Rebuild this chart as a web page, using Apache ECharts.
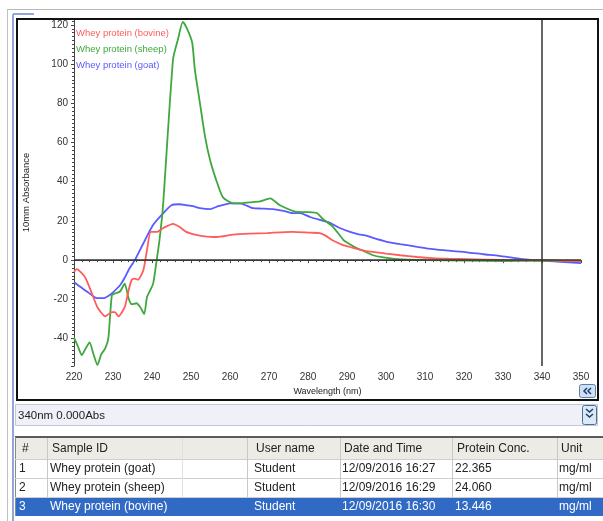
<!DOCTYPE html>
<html><head><meta charset="utf-8">
<script src="https://cdn.jsdelivr.net/npm/echarts@6/dist/echarts.min.js"></script>
<style>html,body{margin:0;padding:0;background:#fff;}#c{width:603px;height:521px;}</style>
</head><body><div id="c"></div>
<script>
// ---- Spectrum data (wavelength nm / 10mm absorbance) ----
const seriesNames = ['Whey protein (bovine)', 'Whey protein (sheep)', 'Whey protein (goat)'];

const bovineNm  = [220,220.7,222.8,224.6,226,228,229.7,230.5,231.4,233,234,234.8,235.6,236.4,237.8,238.7,239.7,241.2,242.9,245.4,247,248.8,251,253,256.6,260.8,265,269.5,273,276,280.5,283,284.5,286.4,289,290.8,294,296,300,303.6,308,312,316,320.8,330,340,350];
const bovineAbs = [-6,-4.6,-8.6,-17,-24,-28.7,-26.5,-26.5,-28.7,-24,-15.4,-10,-9.4,-10,-5,5,14.4,14.4,16.4,18.5,17,14.4,13,12.3,11.8,13,13.5,13.8,14.2,14.4,14,13.8,12.5,10,7.7,6.7,5,4.3,3.3,2.5,1.6,1,0.7,0.5,0.1,0,-0.5];

const sheepNm  = [220,221,222,223,224,225,226,227,228,228.8,229.7,230.5,231.8,233,234,234.8,236,237,238,238.7,239.5,240.3,241.2,241.9,242.8,245.4,246.7,247.9,249,250.3,251,252.3,253.6,254.9,256.7,258.2,260.8,262.6,265,267.7,270.3,272.8,277.2,280,282.3,283.8,286.4,289,290,292.6,294,296.7,299,303,310,320,330,340,350];
const sheepAbs = [-39.5,-44,-48.5,-45,-42,-48,-53.5,-48,-45,-40,-18,-17,-16,-12,-19.5,-22.5,-22,-24,-27.5,-19,-15.5,-12,0,10,27,102.6,113,121.5,118,111,97,80,63,51,39.5,32,29,29,29.5,30,31.5,28,24.6,24.5,24,21,17,10.5,9,6,5,2.5,1.5,0.5,0,-0.3,-0.5,-0.3,-0.5];

const goatNm  = [220,221.5,223.3,225,226,227.5,229,230,231.8,233,234,235.6,237.8,240.3,242.9,245,247,248.8,250.5,252.3,254.9,257,260,262.6,264,265.9,268,271,274,276,278,280.5,283,285.6,288,290.8,293,295,296.7,300,303.6,308,312,316,320.8,325,329,335,342,350];
const goatAbs = [-11.3,-13.5,-16,-18.5,-19.4,-19.4,-18,-16.4,-12.8,-9,-5,0,8.6,18,24,28,28.5,28,27.5,26.5,26,27.5,29,29,28,26.5,26.3,26,25,24,24,22,20.5,19,16.5,14.4,13.2,12.5,11.3,9.5,8.2,6.8,5.6,4.8,4,3,2.2,0.5,-0.5,-1.5];

const seriesColors = ['#ff5c5c', '#3ea83e', '#5a5aff'];
const cursorNm = 340;
const statusText = '340nm 0.000Abs';

// ---- Result table ----
const tableHeaders = ['#', 'Sample ID', '', 'User name', 'Date and Time', 'Protein Conc.', 'Unit'];
const rowNumbers = ['1', '2', '3'];
const sampleIds  = ['Whey protein (goat)', 'Whey protein (sheep)', 'Whey protein (bovine)'];
const userNames  = ['Student', 'Student', 'Student'];
const dateTimes  = ['12/09/2016 16:27', '12/09/2016 16:29', '12/09/2016 16:30'];
const proteinConc = ['22.365', '24.060', '13.446'];
const units      = ['mg/ml', 'mg/ml', 'mg/ml'];

const zip = (xs, ys) => xs.map((x, i) => [x, ys[i]]);
const FONT = 'Liberation Sans';

const chart = echarts.init(document.getElementById('c'), null, {renderer: 'canvas'});

// graphic elements for the frame, status bar and table
const g = [];
const line = (x1, y1, x2, y2, color, w) => g.push({type: 'line', silent: true, shape: {x1, y1, x2, y2}, style: {stroke: color, lineWidth: w || 1}, z: 100});
const txt = (x, y, s, color, size, z) => g.push({type: 'text', silent: true, x, y, style: {text: s, fill: color, font: (size || 12) + 'px ' + FONT, textVerticalAlign: 'middle', verticalAlign: 'middle'}, z: z || 110});
const rect = (x, y, w, h, fill, stroke, r, z) => g.push({type: 'rect', silent: true, shape: {x, y, width: w, height: h, r: r || 0}, style: {fill: fill || 'none', stroke: stroke || 'none', lineWidth: 1}, z: z || 90});

// window edges
line(7, 9.5, 603, 9.5, '#b8b8b8', 1);
line(7.5, 9, 7.5, 521, '#c0c0c0', 1);
line(13, 14, 13, 521, '#8fa8d8', 2);
line(13, 14, 34, 14, '#8fa8d8', 2);
// chart frame
rect(17, 19, 581, 381, 'none', '#111', 0, 95);
g[g.length - 1].style.lineWidth = 2;
// "<<" button
rect(579.5, 384.5, 16, 13, '#cfe0f2', '#5b7fa6', 2, 96);
g.push({type: 'polyline', silent: true, shape: {points: [[587, 388], [584, 391], [587, 394]]}, style: {stroke: '#1f3f6e', lineWidth: 1.5, fill: 'none'}, z: 97});
g.push({type: 'polyline', silent: true, shape: {points: [[591, 388], [588, 391], [591, 394]]}, style: {stroke: '#1f3f6e', lineWidth: 1.5, fill: 'none'}, z: 97});
// status bar
rect(15.5, 404.5, 582, 21, '#eff0f8', '#c4c8d4', 0, 90);
txt(18, 415.5, statusText, '#222', 11.5);
rect(582.5, 405.5, 14, 19, '#dbe8f5', '#4b6d99', 2, 96);
g.push({type: 'polyline', silent: true, shape: {points: [[586, 409], [589.5, 412], [593, 409]]}, style: {stroke: '#1f3f6e', lineWidth: 1.5, fill: 'none'}, z: 97});
g.push({type: 'polyline', silent: true, shape: {points: [[586, 414], [589.5, 417], [593, 414]]}, style: {stroke: '#1f3f6e', lineWidth: 1.5, fill: 'none'}, z: 97});

// table
const colX = [15, 47, 182, 247, 340, 452, 557, 603];
const textX = [22, 52, 0, 256, 344, 457, 561];
const rowTop = [438, 459, 478, 497];
const rowH = [21, 19, 19, 19];
rect(15, 438, 588, 21, '#ecebe5', null, 0, 90);
rect(15, 459, 588, 38, '#ffffff', null, 0, 90);
rect(15, 497, 588, 19, '#316ac5', null, 0, 90);
line(15, 437, 603, 437, '#5a5a5a', 2);
line(15.5, 437, 15.5, 516, '#8a8a8a', 1);
for (let k = 1; k < 4; k++) line(15, rowTop[k] + 0.5, 603, rowTop[k] + 0.5, '#cfcfcf', 1);
for (let c = 1; c < colX.length - 1; c++) line(colX[c] + 0.5, 438, colX[c] + 0.5, 497, c === 2 ? '#e0e0e0' : '#c8c8c8', 1);
tableHeaders.forEach((h, c) => { if (h) txt(textX[c], 449, h, '#222', 12); });
const rowCols = [rowNumbers, sampleIds, null, userNames, dateTimes, proteinConc, units];
for (let r = 0; r < 3; r++) {
  const cy = rowTop[r + 1] + rowH[r + 1] / 2;
  const color = r === 2 ? '#ffffff' : '#222';
  rowCols.forEach((col, c) => { if (col) txt(c === 0 ? 19 : textX[c] - 2, cy, col[r], color, 12); });
}

const names = seriesNames;
const dataSets = [zip(bovineNm, bovineAbs), zip(sheepNm, sheepAbs), zip(goatNm, goatAbs)];

const option = {
  animation: false,
  backgroundColor: '#fff',
  textStyle: {fontFamily: FONT},
  grid: {left: 74, right: 22, top: 19, bottom: 155, containLabel: false},
  legend: {
    orient: 'vertical', left: 66, top: 23, itemGap: 6, itemWidth: 0, itemHeight: 0,
    selectedMode: false,
    textStyle: {fontSize: 9.5, fontFamily: FONT},
    data: names.map((n, i) => ({name: n, icon: 'rect', textStyle: {color: seriesColors[i]}}))
  },
  xAxis: {
    type: 'value', min: 220, max: 350, interval: 10,
    name: 'Wavelength (nm)', nameLocation: 'middle', nameGap: 21,
    nameTextStyle: {fontSize: 9, color: '#222'},
    axisLine: {show: true, lineStyle: {color: '#444', width: 1}},
    axisTick: {show: true, length: 3, lineStyle: {color: '#444'}},
    minorTick: {show: true, splitNumber: 5, length: 2, lineStyle: {color: '#444'}},
    axisLabel: {fontSize: 10, color: '#333', margin: 6},
    splitLine: {show: false}
  },
  yAxis: {
    type: 'value', min: -54, max: 123, splitNumber: 9,
    name: '10mm Absorbance', nameLocation: 'middle', nameGap: 43, nameRotate: 90,
    nameTextStyle: {fontSize: 9.5, color: '#222'},
    axisLine: {show: true, lineStyle: {color: '#444', width: 1}},
    axisTick: {show: true, length: 3, lineStyle: {color: '#444'}},
    minorTick: {show: true, splitNumber: 10, length: 2, lineStyle: {color: '#444'}},
    axisLabel: {fontSize: 10, color: '#333', margin: 6, showMinLabel: false, showMaxLabel: false},
    splitLine: {show: false}
  },
  series: [2, 1, 0].map(i => ({
    name: names[i], type: 'line', data: dataSets[i], showSymbol: false, symbol: 'none',
    smooth: 0.2, clip: true,
    lineStyle: {color: seriesColors[i], width: 1.8},
    itemStyle: {color: seriesColors[i]},
    z: 3 + (i === 0 ? 1 : 0),
    markLine: i === 2 ? {
      silent: true, symbol: 'none', label: {show: false}, animation: false,
      lineStyle: {color: '#333', width: 1.5, type: 'solid'},
      data: [{yAxis: 0}, {xAxis: cursorNm}]
    } : undefined
  })),
  graphic: g
};
chart.setOption(option);
</script>
</body></html>
